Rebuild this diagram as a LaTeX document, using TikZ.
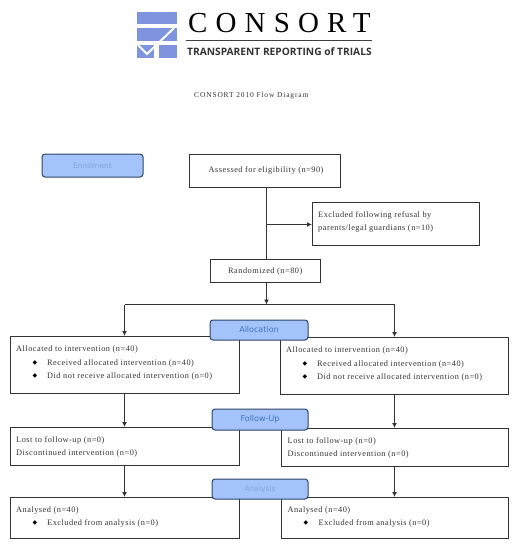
\documentclass[tikz,border=0pt]{standalone}
\usepackage{fontspec}
\setmainfont{Liberation Serif}
\newfontfamily\bodyfont[LetterSpace=6]{Liberation Serif}
\newfontfamily\titlefont[LetterSpace=11]{Liberation Serif}
\newfontfamily\logofont[LetterSpace=28]{Liberation Serif}
\newfontfamily\logosans{Open Sans}
\newfontfamily\labfont{DejaVu Sans}
\newfontfamily\symfont{DejaVu Sans}
\definecolor{logoblue}{HTML}{7E94DE}
\definecolor{stagefill}{HTML}{A3C3FA}
\definecolor{stageline}{HTML}{2C4668}
\definecolor{stagetext}{HTML}{3F74B8}
\definecolor{paletext}{HTML}{86A2DC}
\definecolor{boxline}{HTML}{333333}
\definecolor{bodytext}{HTML}{333333}
\usetikzlibrary{arrows.meta}
\tikzset{
  x=1pt,y=-1pt,
  boxnode/.style={draw=boxline,line width=1pt,fill=white,minimum width=#1,inner sep=0pt,outer sep=0pt},
  stage/.style={draw=stageline,line width=1pt,fill=stagefill,rounded corners=3pt,inner sep=0pt,outer sep=0pt,minimum width=#1},
  line/.style={anchor=west,inner sep=0pt,yshift=-0.7pt,font=\bodyfont\fontsize{8.3}{10}\selectfont,text=bodytext},
  bul/.style={anchor=center,inner sep=0pt,font=\symfont\fontsize{6}{7}\selectfont,text=black},
  conn/.style={draw=boxline,line width=1pt},
  arr/.style={conn,-{Latex[length=5pt,width=5pt]}},
}
\begin{document}
\begin{tikzpicture}
\useasboundingbox (0,0) rectangle (515,550);
% logo
\fill[logoblue] (137,12) rectangle (177,24);
\fill[logoblue] (137,28) rectangle (177,41);
\fill[logoblue] (137,45) rectangle (154,58);
\fill[logoblue] (159,45) rectangle (177,58);
\draw[white,line width=2pt] (174,28) -- (147,54) -- (138,45);
\node[anchor=west,inner sep=0pt,font=\logofont\fontsize{29}{30}\selectfont,text=black] (logotitle) at (188,23) {CONSORT};
\coordinate (rulea) at (186,40);
\coordinate (ruleb) at (372,40);
\draw[black!75,line width=0.8pt] (rulea) -- (ruleb);
\node[anchor=west,inner sep=0pt,font=\logosans\bfseries\fontsize{10.2}{12}\selectfont,text=black!80] (logosub) at (187,52) {TRANSPARENT REPORTING of TRIALS};
\node[anchor=west,inner sep=0pt,font=\titlefont\fontsize{7.5}{9}\selectfont,text=bodytext] (title) at (194,96) {CONSORT 2010 Flow Diagram};
\node[stage=101pt,minimum height=23pt,text=paletext,font=\labfont\fontsize{7.5}{9}\selectfont] (enrol) at (92.5,165.5) {Enrolment};
\node[boxnode=151pt,minimum height=33pt] (assess) at (264.5,170.5) {};
\node[line] (assesst) at (208.5,170) {Assessed for eligibility (n=90)};
\node[boxnode=167pt,minimum height=43pt] (excl) at (395.5,223.5) {};
\node[line] (exa) at (318,215) {Excluded following refusal by};
\node[line] (exb) at (318,228) {parents/legal guardians (n=10)};
\node[boxnode=110pt,minimum height=23pt] (rand) at (265,270.5) {};
\node[line] (randt) at (228,271) {Randomized (n=80)};
\coordinate (split) at (266.5,304.5);
\coordinate (jl) at (124.5,304.5);
\coordinate (jr) at (394.5,304.5);
\coordinate (jx) at (266.5,224.5);
\coordinate (assessb) at (266.5,187);
\coordinate (randt2) at (266.5,259);
\coordinate (randb) at (266.5,282);
\draw[conn] (assessb) -- (randt2);
\draw[arr] (jx) -- (excl.west |- jx);
\draw[arr] (randb) -- (split);
\draw[conn] (jl) -- (jr);
% left column
\node[boxnode=229pt,minimum height=57pt] (la) at (124.5,364.5) {};
\node[boxnode=229pt,minimum height=38pt] (lf) at (124.5,446) {};
\node[boxnode=229pt,minimum height=41pt] (ln) at (124.5,517.5) {};
% right column
\node[boxnode=228pt,minimum height=57pt] (ra) at (394,365.5) {};
\node[boxnode=227pt,minimum height=38pt] (rf) at (394.5,447) {};
\node[boxnode=227pt,minimum height=41pt] (rn) at (394.5,517.5) {};
\draw[arr] (jl) -- (la.north -| jl);
\draw[arr] (jr) -- (ra.north -| jr);
\draw[arr] (la.south -| jl) -- (lf.north -| jl);
\draw[arr] (ra.south -| jr) -- (rf.north -| jr);
\draw[arr] (lf.south -| jl) -- (ln.north -| jl);
\draw[arr] (rf.south -| jr) -- (rn.north -| jr);
% stages
\node[stage=98pt,minimum height=20pt,text=stagetext,font=\labfont\fontsize{8}{9}\selectfont] (alloc) at (259,330) {Allocation};
\node[stage=96pt,minimum height=21pt,text=stagetext,font=\labfont\fontsize{8}{9}\selectfont] (follow) at (260,419.5) {Follow-Up};
\node[stage=96pt,minimum height=20pt,text=paletext,font=\labfont\fontsize{7.5}{9}\selectfont] (anal) at (260,489) {Analysis};
% left text
\node[line] (t1) at (16,349) {Allocated to intervention (n=40)};
\node[bul] (b1) at (35,363) {◆};
\node[line] (t2) at (47,363) {Received allocated intervention (n=40)};
\node[bul] (b2) at (35,376) {◆};
\node[line] (t3) at (47,376) {Did not receive allocated intervention (n=0)};
\node[line] (t4) at (16,440) {Lost to follow-up (n=0)};
\node[line] (t5) at (16,453) {Discontinued intervention (n=0)};
\node[line] (t6) at (16,510) {Analysed (n=40)};
\node[bul] (b3) at (35,523) {◆};
\node[line] (t7) at (47,523) {Excluded from analysis (n=0)};
% right text
\node[line] (u1) at (286,350) {Allocated to intervention (n=40)};
\node[bul] (c1) at (305,364) {◆};
\node[line] (u2) at (317,364) {Received allocated intervention (n=40)};
\node[bul] (c2) at (305,377) {◆};
\node[line] (u3) at (317,377) {Did not receive allocated intervention (n=0)};
\node[line] (u4) at (287.5,441) {Lost to follow-up (n=0)};
\node[line] (u5) at (287.5,454) {Discontinued intervention (n=0)};
\node[line] (u6) at (287.5,510) {Analysed (n=40)};
\node[bul] (c3) at (306,523) {◆};
\node[line] (u7) at (318.5,523) {Excluded from analysis (n=0)};
\end{tikzpicture}
\end{document}
